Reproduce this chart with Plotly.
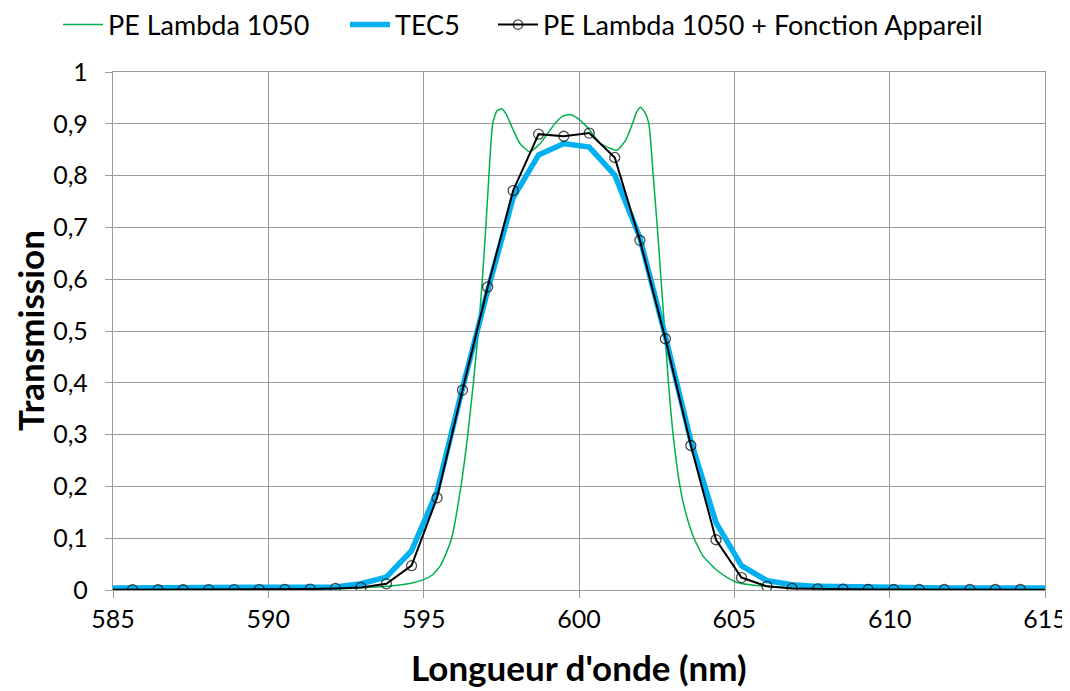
import plotly.graph_objects as go

# ---- data ----
green_x = [585.0, 588.0, 590.0, 591.5, 592.5, 593.5, 594.0, 594.5, 595.0, 595.3, 595.55, 595.75,
           595.90, 596.20, 596.42, 596.60, 596.76, 596.89, 597.00, 597.10, 597.22, 597.36,
           597.52, 597.66, 597.83, 598.1, 598.41, 598.75, 599.22, 599.45, 599.70, 599.95, 600.24,
           600.7, 601.21, 601.5, 601.72, 601.85, 601.98, 602.12, 602.25, 602.39, 602.52, 602.64,
           602.76, 602.88, 603.03, 603.25, 603.43, 603.70, 604.0, 604.4, 604.75, 605.07, 605.5,
           606.0, 607.0, 608.0, 610.0, 612.5, 615.0]
green_y = [0.0005, 0.0008, 0.0012, 0.002, 0.003, 0.006, 0.008, 0.012, 0.020, 0.030, 0.048, 0.075,
           0.10, 0.20, 0.30, 0.40, 0.50, 0.60, 0.70, 0.80, 0.90, 0.925,
           0.929, 0.918, 0.895, 0.862, 0.846, 0.862, 0.900, 0.914, 0.918, 0.911, 0.895,
           0.862, 0.849, 0.868, 0.900, 0.922, 0.932, 0.922, 0.900, 0.800, 0.700, 0.600,
           0.500, 0.400, 0.300, 0.200, 0.150, 0.100, 0.065, 0.040, 0.025, 0.015, 0.010,
           0.007, 0.004, 0.003, 0.0015, 0.001, 0.0006]

wl = [585.0, 585.63, 586.45, 587.26, 588.08, 588.90, 589.71, 590.53, 591.35, 592.16, 592.98,
      593.80, 594.61, 595.43, 596.25, 597.06, 597.88, 598.70, 599.51, 600.33, 601.15,
      601.96, 602.78, 603.60, 604.41, 605.23, 606.05, 606.86, 607.68, 608.50, 609.31,
      610.13, 610.95, 611.76, 612.58, 613.40, 614.21, 615.0]

tec5_y = [0.004, 0.004, 0.004, 0.004, 0.004, 0.004, 0.005, 0.005, 0.005, 0.006, 0.012,
          0.025, 0.076, 0.19, 0.39, 0.578, 0.757, 0.840, 0.862, 0.855, 0.801,
          0.680, 0.490, 0.288, 0.130, 0.047, 0.018, 0.010, 0.007, 0.006, 0.005,
          0.005, 0.004, 0.004, 0.004, 0.004, 0.004, 0.004]

app_y = [0.0005, 0.0005, 0.0005, 0.0005, 0.0006, 0.0007, 0.0009, 0.0012, 0.0018, 0.003, 0.005,
         0.012, 0.047, 0.178, 0.386, 0.585, 0.771, 0.880, 0.876, 0.882, 0.835,
         0.675, 0.485, 0.279, 0.097, 0.024, 0.007, 0.003, 0.002, 0.0015, 0.001,
         0.001, 0.001, 0.001, 0.001, 0.001, 0.001, 0.0005]
app_marker = [0] + [10] * (len(wl) - 2) + [0]

x_ticks = [585, 590, 595, 600, 605, 610, 615]
y_ticks = [0, 0.1, 0.2, 0.3, 0.4, 0.5, 0.6, 0.7, 0.8, 0.9, 1]
y_ticktext = ["0", "0,1", "0,2", "0,3", "0,4", "0,5", "0,6", "0,7", "0,8", "0,9", "1"]

FONT = "Lato"
GRID = "#9a9a9a"
# page body adds an 8px margin, so the figure is 8px smaller than the window
W, H = 1062, 683

fig = go.Figure()
fig.add_trace(go.Scatter(x=green_x, y=green_y, mode="lines", name="PE Lambda 1050",
                         legend="legend",
                         line=dict(color="#00B050", width=1.5, shape="spline", smoothing=0.5)))
fig.add_trace(go.Scatter(x=wl, y=tec5_y, mode="lines", name="TEC5", legend="legend2",
                         line=dict(color="#00B0F0", width=5.5)))
fig.add_trace(go.Scatter(x=wl, y=app_y, mode="lines+markers",
                         name="PE Lambda 1050 + Fonction Appareil", legend="legend3",
                         line=dict(color="black", width=2),
                         marker=dict(symbol="circle-open", size=app_marker, color="black",
                                     line=dict(width=1.3, color="black"))))

def leg(px):
    return dict(orientation="h", x=px / W, xref="container", xanchor="left",
                y=1 - 17 / H, yref="container", yanchor="middle",
                font=dict(family=FONT, size=27), itemwidth=40,
                bgcolor="rgba(0,0,0,0)")

fig.update_layout(
    width=W, height=H,
    paper_bgcolor="white", plot_bgcolor="white",
    font=dict(family=FONT, size=25, color="black"),
    margin=dict(l=105, r=25, t=64, b=101, autoexpand=False),
    showlegend=True,
    legend=leg(50), legend2=leg(337), legend3=leg(485),
    annotations=[
        dict(text="<b>Longueur d'onde (nm)</b>", x=0.5, xref="paper", y=(590 - 667) / 518,
             yref="paper", xanchor="center", yanchor="middle", showarrow=False,
             font=dict(family=FONT, size=35)),
        dict(text="<b>Transmission</b>", x=(30 - 113) / 932, xref="paper", y=0.5,
             yref="paper", xanchor="center", yanchor="middle", showarrow=False,
             textangle=-90, borderpad=0, font=dict(family=FONT, size=35)),
    ],
)
fig.update_xaxes(range=[585, 615], tickvals=x_ticks, ticktext=[str(v) for v in x_ticks],
                 showgrid=True, gridcolor=GRID, gridwidth=1.3, automargin=False,
                 showline=True, linecolor=GRID, linewidth=1.3, mirror=True,
                 ticks="outside", ticklen=7, tickcolor=GRID, zeroline=False,
                 tickfont=dict(family=FONT, size=25))
fig.update_yaxes(range=[0, 1], tickvals=y_ticks, ticktext=y_ticktext,
                 showgrid=True, gridcolor=GRID, gridwidth=1.3, automargin=False,
                 showline=True, linecolor=GRID, linewidth=1.3, mirror=True,
                 ticks="outside", ticklen=7, tickcolor=GRID, zeroline=False,
                 ticklabelstandoff=12,
                 tickfont=dict(family=FONT, size=25))

fig.write_html("out.html")
